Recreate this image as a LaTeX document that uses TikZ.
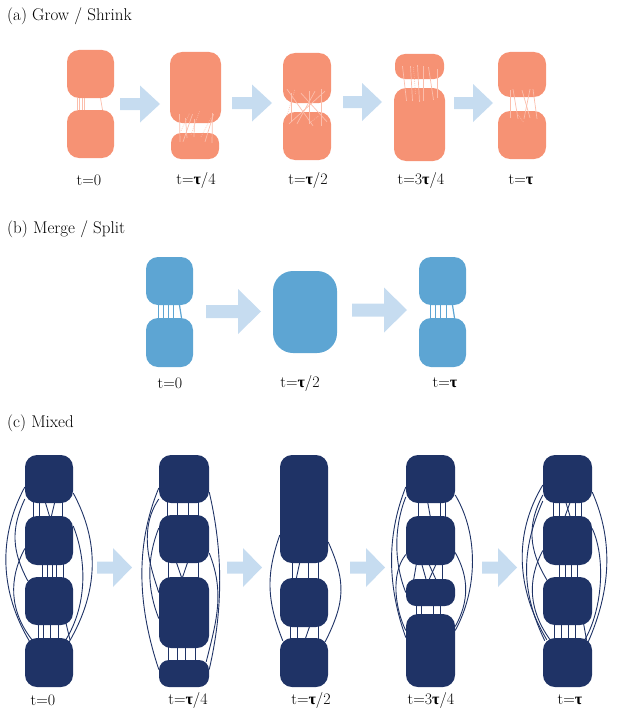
\documentclass[tikz,border=0pt]{standalone}
\usepackage{fontspec}
\newfontfamily\grk{Liberation Serif}
\newcommand\tauB{{\grk\bfseries τ}}
\usetikzlibrary{calc}
\definecolor{salm}{RGB}{246,146,116}
\definecolor{salmedge}{RGB}{251,190,172}
\definecolor{bblue}{RGB}{93,165,211}
\definecolor{navy}{RGB}{31,51,102}
\definecolor{arrowc}{RGB}{198,220,240}
% box: style, name, cx, cy, w, h
\newcommand\mybox[6]{\node[#1,minimum width=#5pt,minimum height=#6pt] (#2) at (#3,#4) {};}
% straight edge: style, from, dx1, to, dx2, extension into boxes
\newcommand\vedge[6]{\draw[#1] ([xshift=#3pt,yshift=#6pt]#2.south) -- ([xshift=#5pt,yshift=-#6pt]#4.north);}
\begin{document}
\begin{tikzpicture}[x=1pt,y=-1pt,
  sbox/.style={fill=salm,draw=none,rounded corners=12pt,inner sep=0pt},
  ssbox/.style={fill=salm,draw=none,rounded corners=10pt,inner sep=0pt},
  bbox/.style={fill=bblue,draw=none,rounded corners=12pt,inner sep=0pt},
  nbox/.style={fill=navy,draw=none,rounded corners=12pt,inner sep=0pt},
  sedge/.style={draw=salmedge,line width=0.7pt},
  sdot/.style={draw=salmedge,line width=0.7pt,dash pattern=on 1pt off 1pt,opacity=0.7},
  bedge/.style={draw=bblue,line width=1.2pt},
  nedge/.style={draw=navy,line width=0.9pt},
  lbl/.style={font=\fontsize{16}{19}\selectfont,inner sep=0pt},
  ttl/.style={font=\fontsize{17}{20}\selectfont,inner sep=0pt,anchor=west},
  pics/barrow/.style n args={4}{code={
    \fill[arrowc] (0,-#4/2) -- (#1-#2,-#4/2) -- (#1-#2,-#3/2) -- (#1,0)
      -- (#1-#2,#3/2) -- (#1-#2,#4/2) -- (0,#4/2) -- cycle;}}
]
\useasboundingbox (0,0) rectangle (616,709);

% ---------------- (a) ----------------
\node[ttl] (ta) at (7,16) {(a) Grow / Shrink};

\mybox{sbox}{a0t}{90.5}{74}{47}{48}
\mybox{sbox}{a0b}{90.5}{134}{47}{48}
\vedge{sedge}{a0t}{-13.5}{a0b}{-13.5}{0}
\vedge{sedge}{a0t}{-11.5}{a0b}{-11.5}{0}
\vedge{sedge}{a0t}{-8.5}{a0b}{-8.5}{0}
\vedge{sedge}{a0t}{-6}{a0b}{-6}{0}
\vedge{sedge}{a0t}{10}{a0b}{12}{0}

\pic at (120,104) {barrow={40}{20}{37}{12}};

% t=tau/4
\mybox{sbox}{a1t}{195.5}{87.5}{51}{71}
\mybox{ssbox}{a1b}{195}{146}{48}{26}
\vedge{sedge}{a1t}{-16}{a1b}{-15}{9}
\vedge{sedge}{a1t}{-3}{a1b}{-12}{9}
\vedge{sedge}{a1t}{-10}{a1b}{-8}{5}
\vedge{sedge}{a1t}{-1}{a1b}{-1}{4}
\vedge{sedge}{a1t}{18}{a1b}{10}{9}
\vedge{sedge}{a1t}{17}{a1b}{17}{10}
\draw[sdot] ([xshift=-14pt,yshift=2pt]a1b.north) -- ([xshift=-6pt,yshift=10pt]a1t.south);
\draw[sdot] ([xshift=-4pt,yshift=-2pt]a1b.north) -- ([xshift=4pt,yshift=12pt]a1t.south);
\draw[sdot] ([xshift=6pt,yshift=-4pt]a1b.north) -- ([xshift=16pt,yshift=6pt]a1t.south);

\pic at (232,103) {barrow={40}{20}{37}{12}};

% t=tau/2
\mybox{sbox}{a2t}{307}{78}{48}{50}
\mybox{sbox}{a2b}{307}{136}{48}{48}
\vedge{sedge}{a2t}{-20}{a2b}{6}{14}
\vedge{sedge}{a2t}{18}{a2b}{-18}{12}
\vedge{sedge}{a2t}{-6}{a2b}{20}{10}
\vedge{sedge}{a2t}{8}{a2b}{-10}{12}
\vedge{sedge}{a2t}{-16}{a2b}{-16}{10}
\vedge{sedge}{a2t}{14}{a2b}{14}{14}
\vedge{sedge}{a2t}{2}{a2b}{2}{12}
\draw[sdot] ([xshift=-20pt,yshift=-4pt]a2b.north) -- ([xshift=-12pt,yshift=14pt]a2t.south);
\draw[sdot] ([xshift=4pt,yshift=-10pt]a2b.north) -- ([xshift=12pt,yshift=-4pt]a2b.north);

\pic at (343,102) {barrow={39}{20}{38}{12}};

% t=3tau/4
\mybox{ssbox}{a3t}{419.5}{66.5}{49}{25}
\mybox{sbox}{a3b}{419.5}{124.5}{51}{73}
\vedge{sedge}{a3t}{-17}{a3b}{-13}{13}
\vedge{sedge}{a3t}{-9}{a3b}{-7}{13}
\vedge{sedge}{a3t}{-2}{a3b}{0}{14}
\vedge{sedge}{a3t}{3.5}{a3b}{3.5}{13}
\vedge{sedge}{a3t}{9}{a3b}{14}{12}
\vedge{sedge}{a3t}{18}{a3b}{18}{10}
\draw[sdot] ([xshift=-6pt,yshift=12pt]a3t.south) -- ([xshift=-4pt,yshift=-6pt]a3b.north);

\pic at (454,103) {barrow={39}{20}{38}{12}};

% t=tau
\mybox{sbox}{a4t}{522}{74.5}{48}{45}
\mybox{sbox}{a4b}{522}{135}{48}{48}
\vedge{sedge}{a4t}{-12}{a4b}{-12}{7}
\vedge{sedge}{a4t}{-9}{a4b}{-4}{8}
\vedge{sedge}{a4t}{0}{a4b}{8}{7}
\vedge{sedge}{a4t}{8}{a4b}{2}{8}
\vedge{sedge}{a4t}{11}{a4b}{15}{8}
\draw[sdot] ([xshift=-4pt,yshift=-4pt]a4b.north) -- ([xshift=2pt,yshift=-12pt]a4b.north);

\node[lbl] (la0) at (89,180) {t=0};
\node[lbl] (la1) at (196,180) {t=\tauB/4};
\node[lbl] (la2) at (308,180) {t=\tauB/2};
\node[lbl] (la3) at (421,180) {t=3\tauB/4};
\node[lbl] (la4) at (521,180) {t=\tauB};

% ---------------- (b) ----------------
\node[ttl] (tb) at (7,229) {(b) Merge / Split};

\mybox{bbox}{b0t}{169.5}{281}{47}{48}
\mybox{bbox}{b0b}{169.5}{342.5}{47}{49}
\vedge{bedge}{b0t}{-11}{b0b}{-11}{0}
\vedge{bedge}{b0t}{-6}{b0b}{-6}{0}
\vedge{bedge}{b0t}{-1}{b0b}{-1}{0}
\vedge{bedge}{b0t}{4}{b0b}{4}{0}
\vedge{bedge}{b0t}{10}{b0b}{12}{0}

\pic at (206,311.5) {barrow={55}{23}{45}{13}};

\node[fill=bblue,draw=none,rounded corners=20pt,inner sep=0pt,minimum width=64pt,minimum height=82pt] (b1) at (305,312) {};

\pic at (352,310) {barrow={55}{23}{45}{13}};

\mybox{bbox}{b2t}{442.5}{281}{47}{48}
\mybox{bbox}{b2b}{442.5}{342.5}{47}{49}
\vedge{bedge}{b2t}{-12}{b2b}{-12}{0}
\vedge{bedge}{b2t}{-7}{b2b}{-7}{0}
\vedge{bedge}{b2t}{-2}{b2b}{-2}{0}
\vedge{bedge}{b2t}{4}{b2b}{4}{0}
\vedge{bedge}{b2t}{10}{b2b}{12}{0}

\node[lbl] (lb0) at (170,383) {t=0};
\node[lbl] (lb1) at (300,383) {t=\tauB/2};
\node[lbl] (lb2) at (445,383) {t=\tauB};

% ---------------- (c) ----------------
\node[ttl] (tc) at (7,423) {(c) Mixed};

% column 0
\mybox{nbox}{c0a}{49}{479}{48}{48}
\mybox{nbox}{c0b}{49}{540.5}{48}{49}
\mybox{nbox}{c0c}{49}{601}{48}{48}
\mybox{nbox}{c0d}{49}{662.5}{48}{49}
\vedge{nedge}{c0a}{-16}{c0b}{-16}{2}
\vedge{nedge}{c0a}{-10}{c0b}{-10}{2}
\vedge{nedge}{c0a}{-4}{c0b}{1}{2}
\vedge{nedge}{c0a}{6}{c0b}{2}{2}
\vedge{nedge}{c0a}{13}{c0b}{13}{2}
\vedge{nedge}{c0b}{-7}{c0c}{-7}{2}
\vedge{nedge}{c0b}{-2}{c0c}{-2}{2}
\vedge{nedge}{c0b}{3}{c0c}{3}{2}
\vedge{nedge}{c0b}{7}{c0c}{7}{2}
\vedge{nedge}{c0b}{14}{c0c}{14}{2}
\vedge{nedge}{c0c}{-11}{c0d}{-11}{2}
\vedge{nedge}{c0c}{-6}{c0d}{-6}{2}
\vedge{nedge}{c0c}{1}{c0d}{1}{2}
\vedge{nedge}{c0c}{9}{c0d}{9}{2}
\vedge{nedge}{c0c}{17}{c0d}{21}{2}
\draw[nedge] ([yshift=-8pt]c0a.west) .. controls +(-27,50) and +(-30,-50) .. ([xshift=5pt,yshift=-4pt]c0d.north west);
\draw[nedge] ([yshift=-20pt]c0a.west) .. controls +(-14,30) and +(-16,-30) .. ([xshift=3pt,yshift=-4pt]c0c.north west);
\draw[nedge] ([yshift=-8pt]c0b.west) .. controls +(-16,30) and +(-24,-30) .. ([xshift=8pt,yshift=-3pt]c0d.north west);
\draw[nedge] ([yshift=-14pt]c0a.east) .. controls +(27,50) and +(29,-50) .. ([xshift=-4pt,yshift=-4pt]c0d.north east);
\draw[nedge] ([yshift=14.5pt]c0b.east) .. controls +(14,35) and +(22,-35) .. ([xshift=-8pt,yshift=-3pt]c0d.north east);

\pic at (97,567.5) {barrow={35}{19}{39}{12}};

% column 1
\mybox{nbox}{c1a}{184}{479}{50}{48}
\mybox{nbox}{c1b}{184}{539}{50}{48}
\mybox{nbox}{c1c}{184}{612.5}{50}{71}
\node[fill=navy,draw=none,rounded corners=10pt,inner sep=0pt,minimum width=50pt,minimum height=27pt] (c1d) at (184,673.5) {};
\vedge{nedge}{c1a}{-17}{c1b}{-17}{2}
\vedge{nedge}{c1a}{-7}{c1b}{-7}{2}
\vedge{nedge}{c1a}{4}{c1b}{4}{2}
\vedge{nedge}{c1a}{14}{c1b}{14}{2}
\vedge{nedge}{c1b}{-16}{c1c}{-16}{2}
\vedge{nedge}{c1b}{-8}{c1c}{-2}{2}
\vedge{nedge}{c1b}{4}{c1c}{-2}{2}
\vedge{nedge}{c1b}{14}{c1c}{14}{2}
\vedge{nedge}{c1c}{-16}{c1d}{-16}{2}
\vedge{nedge}{c1c}{-7}{c1d}{-7}{2}
\vedge{nedge}{c1c}{1}{c1d}{1}{2}
\vedge{nedge}{c1c}{11}{c1d}{11}{2}
\draw[nedge] ([yshift=-9pt]c1a.west) .. controls +(-25,60) and +(-20,-60) .. ([yshift=4pt]c1d.west);
\draw[nedge] ([yshift=11pt]c1b.west) .. controls +(-12,30) and +(-12,-30) .. ([yshift=-6pt]c1c.west);
\draw[nedge] ([yshift=-20pt]c1a.west) .. controls +(-20,30) and +(-10,-30) .. ([yshift=20pt]c1c.west);
\draw[nedge] ([yshift=-13pt]c1a.east) .. controls +(14,60) and +(14,-60) .. ([yshift=4pt]c1d.east);
\draw[nedge] ([yshift=-14pt]c1b.east) .. controls +(16,40) and +(10,-40) .. ([xshift=-3pt,yshift=-2pt]c1d.north east);

\pic at (227,567.5) {barrow={35}{19}{39}{12}};

% column 2
\mybox{nbox}{c2a}{304}{509}{48}{108}
\mybox{nbox}{c2b}{304}{602.5}{48}{49}
\mybox{nbox}{c2c}{304}{662.5}{48}{49}
\vedge{nedge}{c2a}{-12}{c2b}{-12}{2}
\vedge{nedge}{c2a}{-4}{c2b}{-8}{2}
\vedge{nedge}{c2a}{4}{c2b}{4}{2}
\vedge{nedge}{c2a}{14}{c2b}{14}{2}
\vedge{nedge}{c2b}{-14}{c2c}{-14}{2}
\vedge{nedge}{c2b}{-7}{c2c}{-7}{2}
\vedge{nedge}{c2b}{6}{c2c}{1}{2}
\vedge{nedge}{c2b}{14}{c2c}{14}{2}
\draw[nedge] ([yshift=-26pt]c2a.west) .. controls +(-14,40) and +(-16,-40) .. ([xshift=3pt,yshift=-3pt]c2c.north west);
\draw[nedge] ([yshift=-33pt]c2a.east) .. controls +(18,40) and +(20,-40) .. ([xshift=-3pt,yshift=-4pt]c2c.north east);

\pic at (350,567.5) {barrow={35}{19}{39}{12}};

% column 3
\mybox{nbox}{c3a}{430.5}{479}{49}{48}
\mybox{nbox}{c3b}{430.5}{540.5}{49}{49}
\node[fill=navy,draw=none,rounded corners=10pt,inner sep=0pt,minimum width=49pt,minimum height=27pt] (c3c) at (430.5,592.5) {};
\mybox{nbox}{c3d}{430.5}{650.5}{49}{73}
\vedge{nedge}{c3a}{-12}{c3b}{-12}{2}
\vedge{nedge}{c3a}{-3}{c3b}{0}{2}
\vedge{nedge}{c3a}{10}{c3b}{10}{2}
\vedge{nedge}{c3a}{15}{c3b}{15}{2}
\vedge{nedge}{c3b}{-14}{c3c}{-17}{2}
\vedge{nedge}{c3b}{-9}{c3c}{-4}{2}
\vedge{nedge}{c3b}{-2}{c3c}{6}{2}
\vedge{nedge}{c3b}{6}{c3c}{-2}{2}
\vedge{nedge}{c3b}{12}{c3c}{12}{2}
\vedge{nedge}{c3c}{-14}{c3d}{-14}{2}
\vedge{nedge}{c3c}{-9}{c3d}{-9}{2}
\vedge{nedge}{c3c}{3}{c3d}{3}{2}
\vedge{nedge}{c3c}{10}{c3d}{10}{2}
\draw[nedge] ([yshift=-8pt]c3a.west) .. controls +(-20,50) and +(-18,-50) .. ([yshift=13pt]c3d.west);
\draw[nedge] ([yshift=-18pt]c3a.west) .. controls +(-12,30) and +(-12,-30) .. (c3c.west);
\draw[nedge] ([yshift=-14pt]c3b.west) .. controls +(-16,20) and +(-10,-20) .. ([yshift=20pt]c3d.west);
\draw[nedge] ([yshift=-16pt]c3a.east) .. controls +(24,40) and +(22,-40) .. ([yshift=20pt]c3d.east);
\draw[nedge] ([yshift=-12pt]c3b.east) .. controls +(14,25) and +(14,-25) .. ([yshift=24pt]c3d.east);

\pic at (482,567.5) {barrow={35}{19}{39}{12}};

% column 4
\mybox{nbox}{c4a}{567.5}{479}{49}{48}
\mybox{nbox}{c4b}{567.5}{540.5}{49}{49}
\mybox{nbox}{c4c}{567.5}{601}{49}{48}
\mybox{nbox}{c4d}{567.5}{662.5}{49}{49}
\vedge{nedge}{c4a}{-14}{c4b}{-14}{2}
\vedge{nedge}{c4a}{-8}{c4b}{-8}{2}
\vedge{nedge}{c4a}{-2}{c4b}{3}{2}
\vedge{nedge}{c4a}{3}{c4b}{-3}{2}
\vedge{nedge}{c4a}{8}{c4b}{8}{2}
\vedge{nedge}{c4a}{14}{c4b}{14}{2}
\vedge{nedge}{c4b}{-8}{c4c}{-8}{2}
\vedge{nedge}{c4b}{-2}{c4c}{-2}{2}
\vedge{nedge}{c4b}{4}{c4c}{4}{2}
\vedge{nedge}{c4b}{10}{c4c}{10}{2}
\vedge{nedge}{c4c}{-13}{c4d}{-13}{2}
\vedge{nedge}{c4c}{-6}{c4d}{-6}{2}
\vedge{nedge}{c4c}{1}{c4d}{1}{2}
\vedge{nedge}{c4c}{8}{c4d}{8}{2}
\vedge{nedge}{c4c}{16}{c4d}{19}{2}
\draw[nedge] ([yshift=-6pt]c4a.west) .. controls +(-30,50) and +(-30,-50) .. ([xshift=4pt,yshift=-2pt]c4d.north west);
\draw[nedge] ([yshift=-22pt]c4a.west) .. controls +(-22,50) and +(-24,-50) .. ([xshift=2pt,yshift=-3pt]c4d.north west);
\draw[nedge] ([yshift=-16pt]c4a.west) .. controls +(-16,30) and +(-18,-30) .. ([xshift=4pt,yshift=-3pt]c4c.north west);
\draw[nedge] ([yshift=-10pt]c4b.west) .. controls +(-16,30) and +(-22,-30) .. ([xshift=8pt,yshift=-3pt]c4d.north west);
\draw[nedge] ([yshift=-13pt]c4a.east) .. controls +(22,50) and +(22,-50) .. ([xshift=-4pt,yshift=-4pt]c4d.north east);
\draw[nedge] ([yshift=12pt]c4b.east) .. controls +(14,30) and +(18,-30) .. ([xshift=-8pt,yshift=-3pt]c4d.north east);

\node[lbl] (lc0) at (43,700) {t=0};
\node[lbl] (lc1) at (188,700) {t=\tauB/4};
\node[lbl] (lc2) at (311,700) {t=\tauB/2};
\node[lbl] (lc3) at (431,700) {t=3\tauB/4};
\node[lbl] (lc4) at (570,700) {t=\tauB};
\end{tikzpicture}
\end{document}
